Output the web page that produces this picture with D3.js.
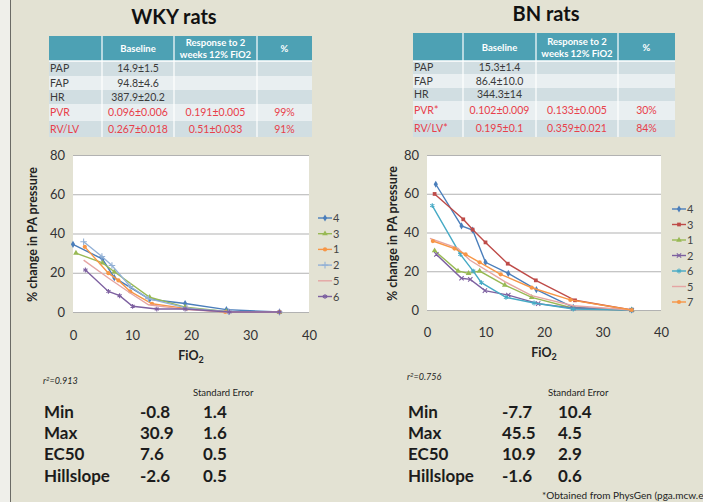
<!DOCTYPE html>
<html lang="en">
<head>
<meta charset="UTF-8">
<title>WKY / BN rats</title>
<script src="https://cdn.jsdelivr.net/npm/d3@7"></script>
<style>
  html, body { margin: 0; padding: 0; background: #e3e2d3; }
  svg { display: block; font-family: Lato, "Open Sans", sans-serif; }
</style>
</head>
<body>
<svg id="svg" width="703" height="502"></svg>
<script>
// ---- data ----
var rowLabels = ["PAP", "FAP", "HR", "PVR", "RV/LV"];
var headerLabels = ["", "Baseline", "Response to 2|weeks 12% FiO2", "%"];

var wkyBaseline = ["14.9±1.5", "94.8±4.6", "387.9±20.2", "0.096±0.006", "0.267±0.018"];
var wkyResponse = ["", "", "", "0.191±0.005", "0.51±0.033"];
var wkyPct = ["", "", "", "99%", "91%"];

var bnLabels = ["PAP", "FAP", "HR", "PVR*", "RV/LV*"];
var bnBaseline = ["15.3±1.4", "86.4±10.0", "344.3±14", "0.102±0.009", "0.195±0.1"];
var bnResponse = ["", "", "", "0.133±0.005", "0.359±0.021"];
var bnPct = ["", "", "", "30%", "84%"];

var xTicks = [0, 10, 20, 30, 40];
var yTicks = [0, 20, 40, 60, 80];

// WKY series (FiO2, % change)
var wkyNames = ["4", "3", "1", "2", "5", "6"];
var wky4 = [[0, 34.5], [5, 27], [7, 17.5], [13, 6.5], [19, 4.3], [26, 1.2], [35, 0]];
var wky3 = [[0.5, 30], [5, 25], [7, 20.5], [13, 7.5], [19, 2.5], [26, 0.3], [35, 0]];
var wky1 = [[2, 33.2], [6, 19.8], [7.7, 16.1], [9.7, 10.5], [13.4, 4.2], [19.3, 1.7], [25.8, 0], [35, 0]];
var wky2 = [[1.8, 35.8], [4.9, 28.3], [6.6, 23.7], [9.7, 13], [12.8, 6.8], [19.3, 2], [26.4, 0.2], [35, 0]];
var wky5 = [[1.8, 26.4], [6, 17.3], [9.7, 9.7], [12.8, 3.7], [19.3, 1.2], [26, 0], [35, 0]];
var wky6 = [[2.1, 21.4], [6, 10.5], [7.9, 8.3], [10.1, 2.9], [14.2, 1.5], [19, 1.5], [26.5, 0], [35, 0]];

// BN series
var bnNames = ["4", "3", "1", "2", "6", "5", "7"];
var bn4 = [[1.5, 64.9], [5.9, 43.4], [7.8, 41.3], [10, 24.6], [13.9, 18.9], [18.7, 10.5], [25, 1.4], [35, 0]];
var bn3 = [[1.3, 59.9], [6.2, 46.8], [7.8, 41.5], [10, 34.9], [13.8, 23.9], [18.6, 15.3], [25.3, 5], [35, 0]];
var bn1 = [[1.3, 30.6], [5.3, 20.1], [7.1, 18.9], [9, 20.1], [13.3, 12.9], [17.9, 6.5], [25, 0.9], [35, 0]];
var bn2 = [[1.6, 28.7], [5.9, 16.4], [7.4, 15.8], [9.9, 10], [13.9, 7.7], [19, 3.3], [25, 0.9], [35, 0]];
var bn6 = [[0.9, 53.9], [5.7, 28.7], [7.9, 20.1], [9.3, 14.1], [13.5, 6.5], [18.3, 3.6], [25, 0.5], [35, 0]];
var bn5 = [[0.5, 37], [5.3, 31.8], [7.3, 25.8], [13.3, 14.6], [17.9, 7.4], [25, 2.2], [35, 0]];
var bn7 = [[1, 35.6], [4.7, 31.7], [6.6, 28.7], [9, 24.6], [12.6, 18.4], [17.9, 11.5], [24.5, 5.2], [35, 0]];

var wkyStats = [["Min", "-0.8", "1.4"], ["Max", "30.9", "1.6"], ["EC50", "7.6", "0.5"], ["Hillslope", "-2.6", "0.5"]];
var bnStats = [["Min", "-7.7", "10.4"], ["Max", "45.5", "4.5"], ["EC50", "10.9", "2.9"], ["Hillslope", "-1.6", "0.6"]];

// ---- drawing ----
var svg = d3.select("#svg");

// left strip of the slide
svg.append("rect").attr("x", 0).attr("y", 0).attr("width", 10).attr("height", 502).attr("fill", "#efefea");
svg.append("line").attr("x1", 10.5).attr("x2", 10.5).attr("y1", 0).attr("y2", 502).attr("stroke", "#6b6b66").attr("stroke-width", 1);

// titles
svg.append("text").attr("x", 174).attr("y", 24).attr("text-anchor", "middle")
    .style("font-size", "20px").style("font-weight", "bold").attr("fill", "#111").text("WKY rats");
svg.append("text").attr("x", 546).attr("y", 21).attr("text-anchor", "middle")
    .style("font-size", "20px").style("font-weight", "bold").attr("fill", "#111").text("BN rats");

function drawTable(colX, rowY, labels, cols) {
    var g = svg.append("g");
    // header
    g.append("rect").attr("x", colX[0]).attr("y", rowY[0])
        .attr("width", colX[4] - colX[0]).attr("height", rowY[1] - rowY[0]).attr("fill", "#4da1b4");
    headerLabels.forEach(function (h, i) {
        if (!h) return;
        var parts = h.split("|");
        var cx = (colX[i] + colX[i + 1]) / 2;
        var cy = (rowY[0] + rowY[1]) / 2;
        var t = g.append("text").attr("text-anchor", "middle").attr("fill", "#fff")
            .style("font-size", "9.5px").style("font-weight", "bold");
        parts.forEach(function (p, j) {
            t.append("tspan").attr("x", cx)
                .attr("y", cy + 3.5 + (j - (parts.length - 1) / 2) * 12).text(p);
        });
    });
    // body rows
    labels.forEach(function (lab, r) {
        var y0 = rowY[r + 1], y1 = rowY[r + 2];
        g.append("rect").attr("x", colX[0]).attr("y", y0).attr("width", colX[4] - colX[0])
            .attr("height", y1 - y0).attr("fill", r % 2 === 0 ? "#d1dee2" : "#e9eff1");
        var red = r >= 3;
        var col = red ? "#e8404a" : "#3a3a3a";
        var ty = (y0 + y1) / 2 + 3.8;
        g.append("text").attr("x", colX[0] + 1).attr("y", ty).attr("fill", col)
            .style("font-size", "10.5px").text(lab);
        cols.forEach(function (c, i) {
            g.append("text").attr("x", (colX[i + 1] + colX[i + 2]) / 2).attr("y", ty)
                .attr("text-anchor", "middle").attr("fill", col).style("font-size", "10.5px").text(c[r]);
        });
    });
    // white column separators
    colX.slice(1, 4).forEach(function (x) {
        g.append("line").attr("x1", x).attr("x2", x).attr("y1", rowY[0]).attr("y2", rowY[6])
            .attr("stroke", "#fff").attr("stroke-width", 1.2);
    });
    g.append("line").attr("x1", colX[0]).attr("x2", colX[4]).attr("y1", rowY[1]).attr("y2", rowY[1])
        .attr("stroke", "#fff").attr("stroke-width", 1.5);
}

drawTable([49, 102, 174, 257, 312], [36, 61, 76, 90, 104, 121, 137], rowLabels, [wkyBaseline, wkyResponse, wkyPct]);
drawTable([413, 463, 536, 618, 675], [33, 61, 74, 88, 101, 120, 137], bnLabels, [bnBaseline, bnResponse, bnPct]);

var palette = {
    blue: "#4a7ebb", red: "#be4b48", green: "#98b954", purple: "#7d60a0",
    aqua: "#46aac5", orange: "#f79646", lightblue: "#93b1d6", pink: "#e5a5a3"
};

function markerPath(type) {
    var s;
    if (type === "diamond") s = d3.symbol(d3.symbolDiamond, 15);
    else if (type === "square") s = d3.symbol(d3.symbolSquare, 14);
    else if (type === "triangle") s = d3.symbol(d3.symbolTriangle, 14);
    else if (type === "circle") s = d3.symbol(d3.symbolCircle, 14);
    else if (type === "plus") s = d3.symbol(d3.symbolPlus, 16);
    else if (type === "x") s = d3.symbol(d3.symbolX, 14);
    else if (type === "star") s = d3.symbol(d3.symbolAsterisk, 16);
    else return null;
    return s();
}
var strokeMarkers = { x: 1, star: 1, plus: 1 };

function drawChart(cfg) {
    var x = d3.scaleLinear().domain([0, 40]).range([cfg.left, cfg.right]);
    var y = d3.scaleLinear().domain([0, 80]).range([cfg.bottom, cfg.top]);
    var g = svg.append("g");

    g.append("rect").attr("x", cfg.left).attr("y", cfg.top)
        .attr("width", cfg.right - cfg.left).attr("height", cfg.bottom - cfg.top).attr("fill", "#fff");

    // grid lines from y axis
    var yAxis = d3.axisLeft(y).tickValues(yTicks).tickSize(-(cfg.right - cfg.left)).tickPadding(8);
    var ya = g.append("g").attr("transform", "translate(" + cfg.left + ",0)").call(yAxis);
    ya.select(".domain").remove();
    ya.selectAll("line").attr("stroke", "#b2b2b2").attr("stroke-width", 1.2);
    ya.selectAll("text").style("font-size", "13px").style("font-family", "Lato, sans-serif").attr("fill", "#333");

    var xAxis = d3.axisBottom(x).tickValues(xTicks).tickSize(0).tickPadding(cfg.xPad);
    var xa = g.append("g").attr("transform", "translate(0," + cfg.bottom + ")").call(xAxis);
    xa.select(".domain").remove();
    xa.selectAll("text").style("font-size", "13px").style("font-family", "Lato, sans-serif").attr("fill", "#333");

    // axis titles
    g.append("text").attr("transform", "translate(" + cfg.yLabelX + "," + ((cfg.top + cfg.bottom) / 2 + 1) + ") rotate(-90)")
        .attr("text-anchor", "middle").style("font-size", "12.5px").style("font-weight", "bold").attr("fill", "#222")
        .text("% change in PA pressure");
    var xt = g.append("text").attr("x", (cfg.left + cfg.right) / 2).attr("y", cfg.xLabelY)
        .attr("text-anchor", "middle").style("font-size", "12.5px").style("font-weight", "bold").attr("fill", "#222");
    xt.append("tspan").text("FiO");
    xt.append("tspan").attr("dy", 3).style("font-size", "9px").text("2");

    var line = d3.line().x(function (d) { return x(d[0]); }).y(function (d) { return y(d[1]); });

    cfg.series.forEach(function (s, i) {
        var color = palette[s.color];
        var hollow = !!strokeMarkers[s.marker];
        g.append("path").datum(s.data).attr("d", line).attr("fill", "none")
            .attr("stroke", color).attr("stroke-width", 1.4);
        var mp = markerPath(s.marker);
        if (mp) {
            g.selectAll(null).data(s.data).enter().append("path")
                .attr("d", mp)
                .attr("transform", function (d) { return "translate(" + x(d[0]) + "," + y(d[1]) + ")"; })
                .attr("fill", hollow ? "none" : color)
                .attr("stroke", color).attr("stroke-width", hollow ? 1.1 : 0);
        }
        // legend
        var ly = cfg.legendY + i * cfg.legendStep;
        g.append("line").attr("x1", cfg.legendX - 7).attr("x2", cfg.legendX + 7).attr("y1", ly).attr("y2", ly)
            .attr("stroke", color).attr("stroke-width", 1.4);
        if (mp) {
            g.append("path").attr("d", mp).attr("transform", "translate(" + cfg.legendX + "," + ly + ")")
                .attr("fill", hollow ? "none" : color)
                .attr("stroke", color).attr("stroke-width", hollow ? 1.1 : 0);
        }
        g.append("text").attr("x", cfg.legendX + 8).attr("y", ly + 4).style("font-size", "11px")
            .attr("fill", "#444").text(cfg.names[i]);
    });
}

drawChart({
    left: 73, right: 309, top: 155, bottom: 312, xPad: 19, yLabelX: 37, xLabelY: 360,
    legendX: 325, legendY: 218, legendStep: 15.7, names: wkyNames,
    series: [
        { data: wky4, color: "blue", marker: "diamond" },
        { data: wky3, color: "green", marker: "triangle" },
        { data: wky1, color: "orange", marker: "circle" },
        { data: wky2, color: "lightblue", marker: "plus" },
        { data: wky5, color: "pink", marker: null },
        { data: wky6, color: "purple", marker: "star" }
    ]
});

drawChart({
    left: 427, right: 661, top: 155, bottom: 310, xPad: 18, yLabelX: 397, xLabelY: 357,
    legendX: 679, legendY: 209, legendStep: 15.5, names: bnNames,
    series: [
        { data: bn4, color: "blue", marker: "diamond" },
        { data: bn3, color: "red", marker: "square" },
        { data: bn1, color: "green", marker: "triangle" },
        { data: bn2, color: "purple", marker: "x" },
        { data: bn6, color: "aqua", marker: "star" },
        { data: bn5, color: "pink", marker: null },
        { data: bn7, color: "orange", marker: "circle" }
    ]
});

// fit statistics
function drawStats(stats, r2, lx, vx, sx, r2x, r2y) {
    var g = svg.append("g");
    var r = g.append("text").attr("x", r2x).attr("y", r2y).style("font-size", "9px")
        .style("font-style", "italic").attr("fill", "#222");
    r.append("tspan").text("r");
    r.append("tspan").attr("dy", -3).style("font-size", "6px").text("2");
    r.append("tspan").attr("dy", 3).text(r2);
    g.append("text").attr("x", sx - 10).attr("y", 396).style("font-size", "9.5px").attr("fill", "#222")
        .text("Standard Error");
    stats.forEach(function (row, i) {
        var yy = 418 + i * 21.2;
        [lx, vx, sx].forEach(function (xx, j) {
            g.append("text").attr("x", xx).attr("y", yy).style("font-size", "17px").style("font-weight", "bold")
                .attr("fill", "#1c1c1c").text(row[j]);
        });
    });
}
drawStats(wkyStats, "=0.913", 44, 140, 203, 43, 384);
drawStats(bnStats, "=0.756", 408, 502, 558, 407, 380);

// footnote, as far as it is visible on the slide
svg.append("text").attr("x", 542).attr("y", 499).style("font-size", "10px").attr("fill", "#222")
    .text("*Obtained from PhysGen (pga.mcw.e");
</script>
</body>
</html>
